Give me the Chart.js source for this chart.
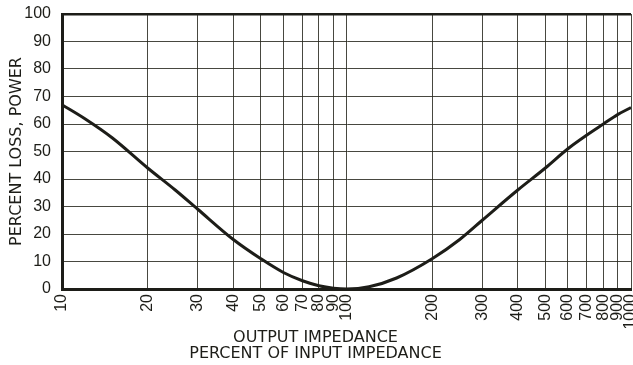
<!DOCTYPE html>
<html>
<head>
<meta charset="utf-8">
<script src="https://cdn.jsdelivr.net/npm/chart.js@4.4.1/dist/chart.umd.min.js"></script>
<style>
  html, body { margin: 0; padding: 0; background: #fff; }
  #wrap { width: 633px; height: 365px; }
</style>
</head>
<body>
<div id="wrap"><canvas id="lossChart" width="633" height="365"></canvas></div>
<script>
// Output impedance as percent of input impedance
const impedance = [10, 12, 15, 20, 25, 30, 40, 50, 60, 70, 80, 90, 100, 120, 150, 200, 250, 300, 400, 500, 600, 700, 800, 900, 1000];
// Percent of power lost at each point
const powerLoss = [67, 62, 55, 44, 36, 29, 18, 11, 6, 3, 1.2, 0.3, 0, 0.8, 4, 11, 18, 25, 36, 44, 51, 56, 60, 63.5, 66];

// Grid / tick positions
const xTicks = [10, 20, 30, 40, 50, 60, 70, 80, 90, 100, 200, 300, 400, 500, 600, 700, 800, 900, 1000];
const yTicks = [0, 10, 20, 30, 40, 50, 60, 70, 80, 90, 100];

const ink = '#1d1d18';
const gridInk = 'rgba(40,40,30,0.85)';
const tickFont = { family: "'Liberation Sans Narrow', 'Liberation Sans', sans-serif", size: 16, weight: 'normal' };
const titleFont = { family: "'DejaVu Sans', sans-serif", size: 16, weight: 'normal', lineHeight: 1 };

const ctx = document.getElementById('lossChart');

new Chart(ctx, {
  type: 'line',
  data: {
    datasets: [{
      data: impedance.map((v, i) => ({ x: v, y: powerLoss[i] })),
      borderColor: ink,
      borderWidth: 3,
      pointRadius: 0,
      cubicInterpolationMode: 'monotone',
      fill: false
    }]
  },
  options: {
    responsive: false,
    animation: false,
    layout: { padding: { top: 14, right: 2, left: 0, bottom: 0 } },
    plugins: {
      legend: { display: false },
      tooltip: { enabled: false },
      title: {
        display: true,
        position: 'bottom',
        text: ['OUTPUT IMPEDANCE', 'PERCENT OF INPUT IMPEDANCE'],
        color: ink,
        font: titleFont,
        padding: { top: 0, bottom: 3 }
      }
    },
    scales: {
      x: {
        type: 'logarithmic',
        min: 10,
        max: 1000,
        afterBuildTicks: (scale) => {
          scale.ticks = xTicks.map(v => ({ value: v }));
        },
        afterFit: (scale) => {
          scale.height = 41;
          scale.paddingLeft = 0;
          scale.paddingRight = 0;
        },
        ticks: {
          autoSkip: false,
          minRotation: 90,
          maxRotation: 90,
          padding: 5,
          color: ink,
          font: tickFont,
          callback: (v) => String(v)
        },
        grid: {
          color: gridInk,
          lineWidth: 1,
          drawTicks: false
        },
        border: { display: true, color: ink, width: 3 }
      },
      y: {
        min: 0,
        max: 100,
        afterBuildTicks: (scale) => {
          scale.ticks = yTicks.map(v => ({ value: v }));
        },
        afterFit: (scale) => {
          scale.width = 62;
          scale.paddingTop = 0;
          scale.paddingBottom = 0;
        },
        ticks: {
          padding: 11,
          color: ink,
          font: tickFont
        },
        grid: {
          color: (c) => (c.tick && c.tick.value === 100 ? ink : gridInk),
          lineWidth: (c) => (c.tick && c.tick.value === 100 ? 2.5 : 1),
          drawTicks: false
        },
        border: { display: true, color: ink, width: 3 },
        title: {
          display: true,
          text: 'PERCENT LOSS, POWER',
          color: ink,
          font: titleFont,
          padding: { top: 9, bottom: 0 }
        }
      }
    }
  }
});
</script>
</body>
</html>
